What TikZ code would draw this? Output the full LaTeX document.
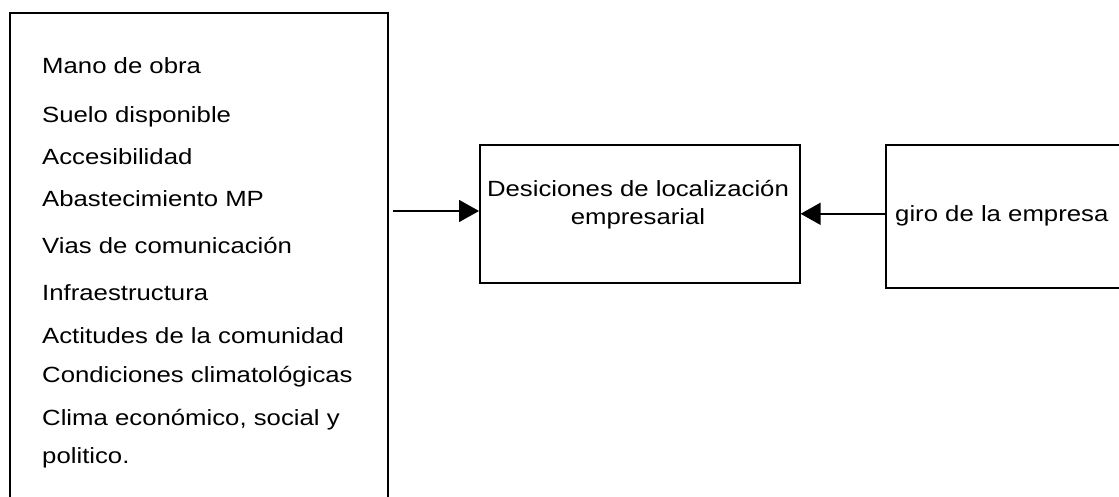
\documentclass[tikz,border=0pt]{standalone}
\usepackage{fontspec}
\setmainfont{Liberation Sans}[FakeStretch=1.17]
\usetikzlibrary{arrows.meta}
\begin{document}
\begin{tikzpicture}[x=1pt,y=-1pt,
  box/.style={draw=black, line width=1.6pt, rectangle, inner sep=0pt},
  lbl/.style={inner sep=0pt, font=\fontsize{22}{28}\selectfont},
  arr/.style={line width=1.6pt, -{Triangle[length=20pt,width=22pt]}}]
\useasboundingbox[fill=white] (0,0) rectangle (1119,497);
% boxes
\node[box, anchor=north west, minimum width=378, minimum height=520] (factors) at (9,12) {};
\node[box, anchor=north west, minimum width=320, minimum height=138] (mid) at (479,144) {};
\node[box, anchor=north west, minimum width=260, minimum height=143] (giro) at (885,144) {};
% left list
\node[lbl, anchor=base west] (t1) at (42,74) {Mano de obra};
\node[lbl, anchor=base west] (t2) at (42,123) {Suelo disponible};
\node[lbl, anchor=base west] (t3) at (42,165) {Accesibilidad};
\node[lbl, anchor=base west] (t4) at (42,207) {Abastecimiento MP};
\node[lbl, anchor=base west] (t5) at (42,254) {Vias de comunicación};
\node[lbl, anchor=base west] (t6) at (42,300) {Infraestructura};
\node[lbl, anchor=base west] (t7) at (42,343) {Actitudes de la comunidad};
\node[lbl, anchor=base west] (t8) at (42,382) {Condiciones climatológicas};
\node[lbl, anchor=base west] (t9) at (42,425) {Clima económico, social y};
\node[lbl, anchor=base west] (t10) at (42,463) {politico.};
% middle text
\node[lbl, anchor=base] (m1) at (638,197) {Desiciones de localización};
\node[lbl, anchor=base] (m2) at (638,225) {empresarial};
% right text
\node[lbl, anchor=base west] (g1) at (895,222) {giro de la empresa};
% arrows
\coordinate (a1) at (393,211);
\draw[arr] (a1) -- (a1 -| mid.west);
\draw[arr] (giro.west |- mid.east) -- (mid.east);
\end{tikzpicture}
\end{document}
